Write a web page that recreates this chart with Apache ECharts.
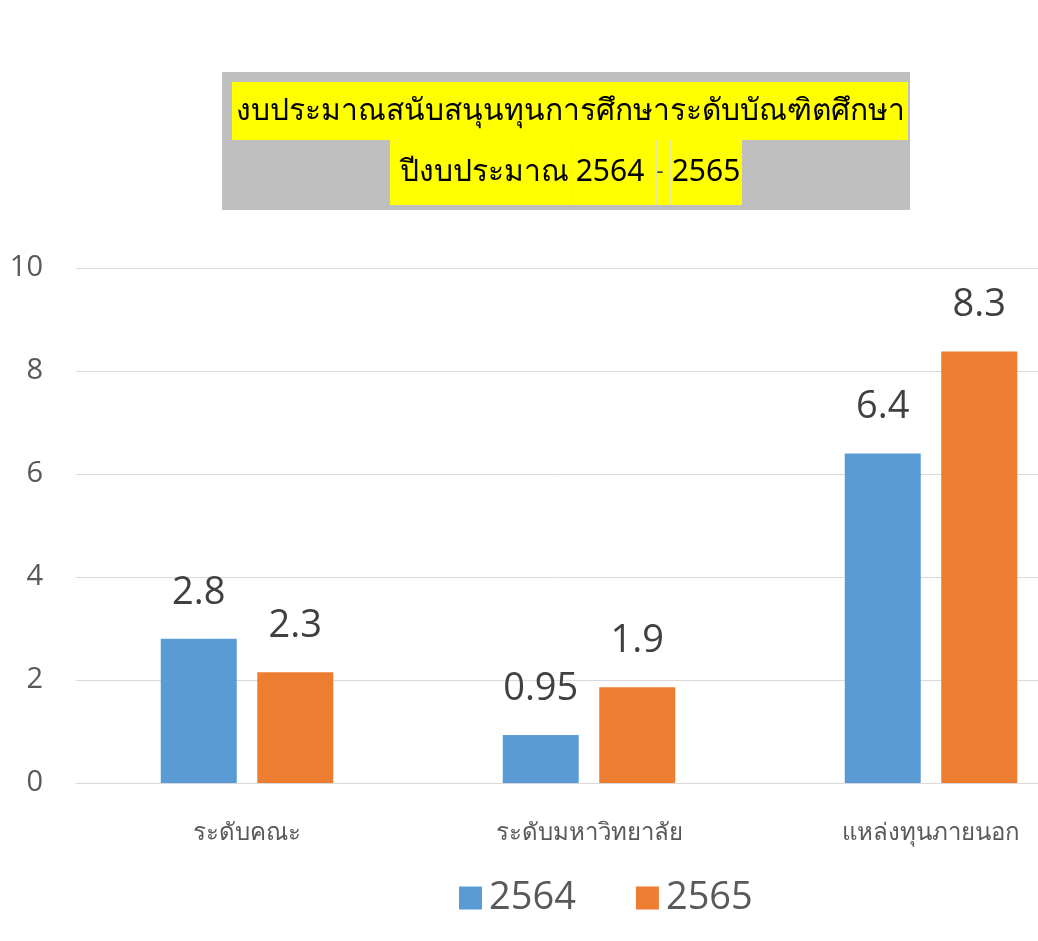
<!DOCTYPE html>
<html>
<head>
<meta charset="utf-8">
<script src="https://cdn.jsdelivr.net/npm/echarts@6/dist/echarts.min.js"></script>
<style>
  html, body { margin: 0; padding: 0; background: #fff; }
  #chart { width: 1038px; height: 941px; }
</style>
</head>
<body>
<div id="chart"></div>
<script>
// ข้อมูลกราฟ
var categories = ['ระดับคณะ', 'ระดับมหาวิทยาลัย', 'แหล่งทุนภายนอก']
var seriesNames = ['2564', '2565']
var values2564 = [2.8, 0.93, 6.4]
var values2565 = [2.15, 1.86, 8.38]
var labels2564 = ['2.8', '0.95', '6.4']
var labels2565 = ['2.3', '1.9', '8.3']
var yTicks = [0, 2, 4, 6, 8, 10]
var titleLine1 = 'งบประมาณสนับสนุนทุนการศึกษาระดับบัณฑิตศึกษา'
var titleLine2 = ['ปีงบประมาณ', '2564', '-', '2565']

var thaiFont = "'Noto Sans', 'DejaVu Sans', sans-serif"
var numFont = "'Open Sans', 'Noto Sans', sans-serif"

var chart = echarts.init(document.getElementById('chart'))

function labelFor (arr) {
  return function (p) { return arr[p.dataIndex] }
}

var option = {
  backgroundColor: '#ffffff',
  animation: false,
  grid: {
    left: 76,
    width: 1026,
    top: 268,
    bottom: 158,
    containLabel: false,
    outerBoundsMode: 'none'
  },
  legend: {
    data: seriesNames,
    left: 454,
    top: 874,
    icon: 'rect',
    itemWidth: 23,
    itemHeight: 23,
    itemGap: 60,
    textStyle: {
      fontFamily: numFont,
      fontSize: 38,
      color: '#595959',
      padding: [0, 0, 0, 2]
    }
  },
  xAxis: {
    type: 'category',
    data: categories,
    axisLine: { lineStyle: { color: '#d9d9d9', width: 1 } },
    axisTick: { show: false },
    axisLabel: {
      margin: 38,
      fontFamily: thaiFont,
      fontSize: 24,
      color: '#595959'
    }
  },
  yAxis: {
    type: 'value',
    min: yTicks[0],
    max: yTicks[yTicks.length - 1],
    interval: 2,
    axisLine: { show: false },
    axisTick: { show: false },
    splitLine: { lineStyle: { color: '#d9d9d9', width: 1 } },
    axisLabel: {
      margin: 33,
      fontFamily: numFont,
      fontSize: 29,
      color: '#595959'
    }
  },
  series: [
    {
      name: seriesNames[0],
      type: 'bar',
      data: values2564,
      barWidth: 76,
      barGap: '27%',
      itemStyle: { color: '#5b9bd5' },
      label: {
        show: true,
        position: 'top',
        distance: 27,
        formatter: labelFor(labels2564),
        fontFamily: numFont,
        fontSize: 38,
        lineHeight: 38,
        color: '#404040'
      }
    },
    {
      name: seriesNames[1],
      type: 'bar',
      data: values2565,
      barWidth: 76,
      barGap: '27%',
      itemStyle: { color: '#ed7d31' },
      label: {
        show: true,
        position: 'top',
        distance: 27,
        formatter: labelFor(labels2565),
        fontFamily: numFont,
        fontSize: 38,
        lineHeight: 38,
        color: '#404040'
      }
    }
  ],
  graphic: [
    // กล่องหัวเรื่อง
    { type: 'rect', shape: { x: 222, y: 72, width: 688, height: 138 }, style: { fill: '#bfbfbf' } },
    { type: 'rect', shape: { x: 232, y: 82, width: 676, height: 58 }, style: { fill: '#ffff00' } },
    { type: 'rect', shape: { x: 390, y: 140, width: 352, height: 65 }, style: { fill: '#ffff00' } },
    { type: 'rect', shape: { x: 571, y: 140, width: 1, height: 65 }, style: { fill: '#e6e6a0' } },
    { type: 'rect', shape: { x: 656, y: 140, width: 1, height: 65 }, style: { fill: '#e6e6a0' } },
    { type: 'rect', shape: { x: 663, y: 140, width: 1, height: 65 }, style: { fill: '#e6e6a0' } },
    { type: 'rect', shape: { x: 670, y: 140, width: 1, height: 65 }, style: { fill: '#e6e6a0' } },
    {
      type: 'text',
      style: {
        text: titleLine1, x: 570, y: 111, align: 'center', verticalAlign: 'middle',
        font: '30px ' + thaiFont, fill: '#000'
      }
    },
    {
      type: 'text',
      style: {
        text: titleLine2[0], x: 569, y: 172, align: 'right', verticalAlign: 'middle',
        font: '30px ' + thaiFont, fill: '#000'
      }
    },
    {
      type: 'text',
      style: {
        text: titleLine2[1], x: 610, y: 172, align: 'center', verticalAlign: 'middle',
        font: '30px ' + thaiFont, fill: '#000'
      }
    },
    {
      type: 'text',
      style: {
        text: titleLine2[2], x: 660, y: 172, align: 'center', verticalAlign: 'middle',
        font: '22px ' + thaiFont, fill: '#444'
      }
    },
    {
      type: 'text',
      style: {
        text: titleLine2[3], x: 706, y: 172, align: 'center', verticalAlign: 'middle',
        font: '30px ' + thaiFont, fill: '#000'
      }
    }
  ]
}

chart.setOption(option)
</script>
</body>
</html>
